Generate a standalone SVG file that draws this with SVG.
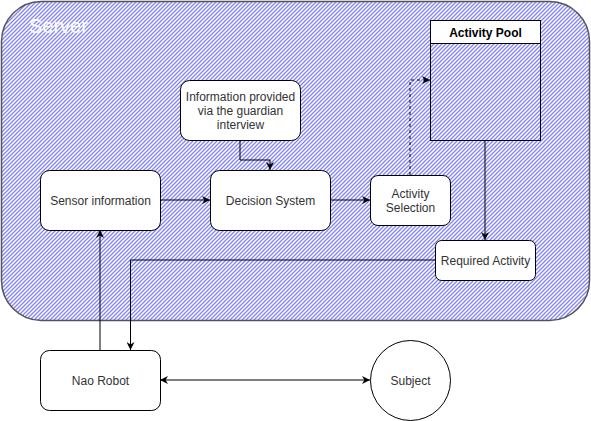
<svg xmlns="http://www.w3.org/2000/svg" width="591" height="421" viewBox="0 0 591 421">
<style>
.node{fill:#ffffff;stroke:#000000;stroke-width:1}
.lbl{font-family:"Liberation Sans",Arial,sans-serif;font-size:12px;fill:#333333;text-anchor:middle}
.edge{fill:none;stroke:#000000;stroke-width:1}
.dash{stroke-dasharray:3 3}
</style>
<defs>
<pattern id="hatch" patternUnits="userSpaceOnUse" width="4" height="4">
<rect width="4" height="4" fill="#8484f0"/>
<path d="M-1,1 L1,-1 M0,4 L4,0 M3,5 L5,3" stroke="#ffffff" stroke-width="1.5"/>
</pattern>
<marker id="arr" viewBox="0 0 10 10" refX="10" refY="5" markerWidth="8" markerHeight="8" markerUnits="userSpaceOnUse" orient="auto-start-reverse">
<path d="M0,0 L10,5 L0,10 L3,5 z" fill="#000000"/>
</marker>
</defs>
<g id="server">
<rect x="1.5" y="1.5" width="588" height="319" rx="40" ry="40" fill="url(#hatch)" stroke="#555555" stroke-width="1.5"/>
<text x="29" y="33" font-family="'Liberation Sans',Arial,sans-serif" font-size="20" fill="#ffffff">Server</text>
</g>
<g id="edges">
<path class="edge" d="M240,140 V160 H270 V170" marker-end="url(#arr)"/>
<path class="edge" d="M160,200 H210" marker-end="url(#arr)"/>
<path class="edge" d="M330,200 H370" marker-end="url(#arr)"/>
<path class="edge dash" d="M410,175 V80 H430" marker-end="url(#arr)"/>
<path class="edge" d="M485,140 V240" marker-end="url(#arr)"/>
<path class="edge" d="M435,260 H130.5 V350" marker-end="url(#arr)"/>
<path class="edge" d="M100,350 V230" marker-end="url(#arr)"/>
<path class="edge" d="M160,380 H370" marker-start="url(#arr)" marker-end="url(#arr)"/>
</g>
<g id="activity-pool">
<rect x="430.5" y="20.5" width="110" height="120" fill="none" stroke="#000" stroke-width="1"/>
<rect x="430.5" y="20.5" width="110" height="23" fill="#ffffff" stroke="#000" stroke-width="1"/>
<text x="485.5" y="36.5" font-family="'Liberation Sans',Arial,sans-serif" font-size="12" font-weight="bold" fill="#000" text-anchor="middle">Activity Pool</text>
</g>
<g id="info">
<rect class="node" x="180.5" y="80.5" width="120" height="60" rx="9"/>
<text class="lbl" x="240.5" y="101">Information provided</text>
<text class="lbl" x="240.5" y="115">via the guardian</text>
<text class="lbl" x="240.5" y="129">interview</text>
</g>
<g id="sensor">
<rect class="node" x="40.5" y="170.5" width="120" height="60" rx="9"/>
<text class="lbl" x="100.5" y="204.5">Sensor information</text>
</g>
<g id="decision">
<rect class="node" x="210.5" y="170.5" width="120" height="60" rx="9"/>
<text class="lbl" x="270.5" y="204.5">Decision System</text>
</g>
<g id="selection">
<rect class="node" x="370.5" y="175.5" width="80" height="50" rx="7.5"/>
<text class="lbl" x="410.5" y="197.5">Activity</text>
<text class="lbl" x="410.5" y="211.5">Selection</text>
</g>
<g id="required">
<rect class="node" x="435.5" y="240.5" width="100" height="40" rx="6"/>
<text class="lbl" x="485.5" y="264.5">Required Activity</text>
</g>
<g id="nao">
<rect class="node" x="40.5" y="350.5" width="120" height="60" rx="9"/>
<text class="lbl" x="100.5" y="384.5">Nao Robot</text>
</g>
<g id="subject">
<circle class="node" cx="410.5" cy="380.5" r="40"/>
<text class="lbl" x="410.5" y="384.5">Subject</text>
</g>
</svg>
